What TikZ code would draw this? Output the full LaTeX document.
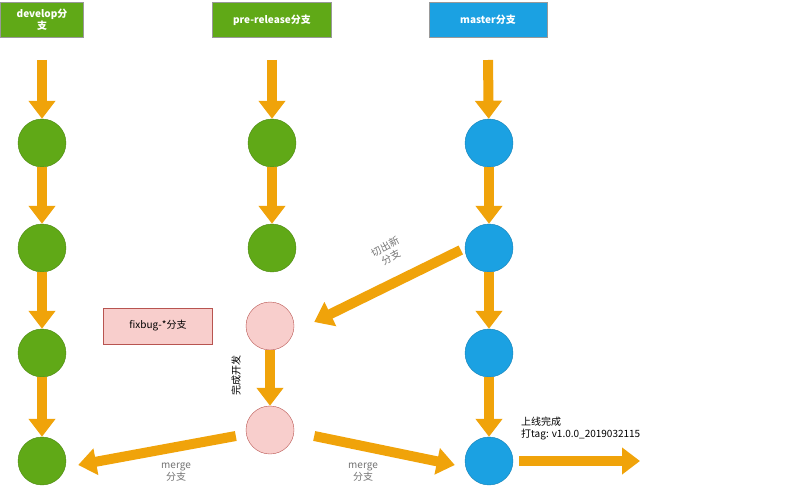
\documentclass[tikz,border=0pt]{standalone}
\usepackage{fontspec}
\setmainfont{Noto Sans CJK SC}
\usetikzlibrary{arrows.meta,positioning,calc}
\definecolor{devgreen}{HTML}{60A917}
\definecolor{masblue}{HTML}{1BA1E2}
\definecolor{fixpink}{HTML}{F8CECC}
\definecolor{fixred}{HTML}{B85450}
\definecolor{flow}{HTML}{F0A30A}
\begin{document}
\begin{tikzpicture}[x=1pt,y=-1pt,
  head/.style={draw=black!40,text=white,font=\bfseries,minimum height=35pt,align=center,inner sep=2pt},
  dot/.style={circle,draw,minimum size=48pt,inner sep=0pt},
  dev/.style={dot,fill=devgreen,draw=devgreen!80!black},
  mas/.style={dot,fill=masblue,draw=masblue!80!black},
  fix/.style={dot,fill=fixpink,draw=fixred},
  flw/.style={draw=flow,line width=10pt,-{Triangle[width=26pt,length=18pt]}},
  note/.style={font=\normalsize,align=center,text=black!55}]
\useasboundingbox (0,0) rectangle (811,500);
% headers
\node[head,fill=devgreen,minimum width=83pt] (hdev) at (42,20) {develop分\\支};
\node[head,fill=devgreen,minimum width=119pt] (hpre) at (272,20) {pre-release分支};
\node[head,fill=masblue,minimum width=118pt] (hmas) at (488,20) {master分支};
\coordinate (tdev) at (42,60); \coordinate (tpre) at (272,60); \coordinate (tmas) at (488,60);
% develop
\foreach \y [count=\i] in {143,248,353,461} \node[dev] (d\i) at (42,\y) {};
% pre-release
\node[dev] (p1) at (272,143) {};
\node[dev] (p2) at (272,248) {};
% master
\foreach \y [count=\i] in {143,248,353,461} \node[mas] (m\i) at (489,\y) {};
% fixbug
\node[fix] (f1) at (270,326) {};
\node[fix] (f2) at (270,430) {};
\node[draw=fixred,fill=fixpink,minimum width=109pt,minimum height=36pt] (fix) at (158,326) {fixbug-*分支};
% flows
\draw[flw] (tdev) -- (d1); \draw[flw] (d1) -- (d2); \draw[flw] (d2) -- (d3); \draw[flw] (d3) -- (d4);
\draw[flw] (tpre) -- (p1); \draw[flw] (p1) -- (p2);
\draw[flw] (tmas) -- (m1); \draw[flw] (m1) -- (m2); \draw[flw] (m2) -- (m3); \draw[flw] (m3) -- (m4);
\draw[flw] ($(m2.west)+(-4,2)$) -- ($(f1.east)+(20,-4)$);
\draw[flw] (f1) -- (f2);
\draw[flw] ($(f2.west)+(-10,6)$) -- ($(d4.east)+(12,4)$);
\draw[flw] ($(f2.east)+(20,6)$) -- ($(m4.west)+(-10,4)$);
\coordinate (done) at (640,461);
\draw[flw] ($(m4.east)+(6,0)$) -- (done);
% labels
\node[note,rotate=28,inner sep=1pt] (cut) at (388,252) {切出新\\分支};
\node[note] (mg1) at (176,472) {merge\\分支};
\node[note] (mg2) at (363,472) {merge\\分支};
\node[rotate=90] (dev done) at (236,375) {完成开发};
\node[align=left,anchor=west,inner sep=1pt] (release) at (520,429) {上线完成\\打tag: v1.0.0\_2019032115};
\end{tikzpicture}
\end{document}
